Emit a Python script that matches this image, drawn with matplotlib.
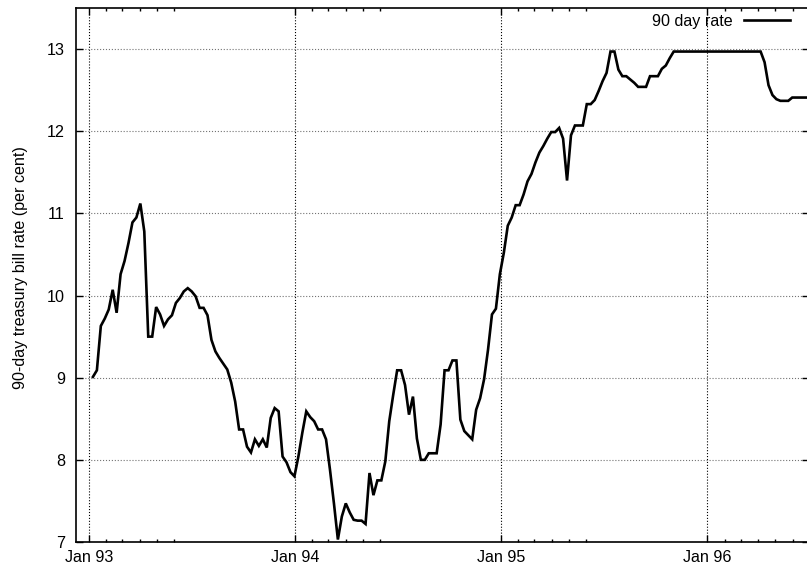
import numpy as np
import pandas as pd
import matplotlib
matplotlib.use("Agg")
import matplotlib.pyplot as plt
import matplotlib.dates as mdates

plt.rcParams['font.family'] = ['Liberation Sans', 'DejaVu Sans']

# weekly 90-day treasury bill rate, first week ending 8 Jan 1993
first_week = "1993-01-08"
rate = [
    9.01, 9.09, 9.63, 9.72, 9.83, 10.07, 9.79, 10.26, 10.42, 10.64,
    10.89, 10.95, 11.12, 10.78, 9.50, 9.50, 9.86, 9.77, 9.63, 9.71,
    9.76, 9.91, 9.97, 10.05, 10.09, 10.05, 9.99, 9.85, 9.85, 9.76,
    9.46, 9.32, 9.24, 9.17, 9.10, 8.94, 8.71, 8.37, 8.37, 8.16,
    8.09, 8.25, 8.17, 8.25, 8.15, 8.51, 8.63, 8.59, 8.04, 7.97,
    7.85, 7.80, 8.04, 8.33, 8.59, 8.52, 8.47, 8.37, 8.37, 8.25,
    7.88, 7.47, 7.03, 7.31, 7.47, 7.36, 7.27, 7.26, 7.26, 7.22,
    7.84, 7.57, 7.75, 7.75, 7.98, 8.47, 8.79, 9.09, 9.09, 8.91,
    8.55, 8.77, 8.26, 8.00, 8.00, 8.08, 8.08, 8.08, 8.43, 9.09,
    9.09, 9.21, 9.21, 8.49, 8.35, 8.30, 8.25, 8.61, 8.75, 8.98,
    9.34, 9.77, 9.84, 10.26, 10.52, 10.85, 10.95, 11.10, 11.10, 11.23,
    11.39, 11.48, 11.62, 11.74, 11.82, 11.91, 11.99, 11.99, 12.04, 11.91,
    11.40, 11.95, 12.07, 12.07, 12.07, 12.33, 12.33, 12.38, 12.49, 12.61,
    12.71, 12.97, 12.97, 12.75, 12.67, 12.67, 12.63, 12.59, 12.54, 12.54,
    12.54, 12.67, 12.67, 12.67, 12.76, 12.80, 12.89, 12.97, 12.97, 12.97,
    12.97, 12.97, 12.97, 12.97, 12.97, 12.97, 12.97, 12.97, 12.97, 12.97,
    12.97, 12.97, 12.97, 12.97, 12.97, 12.97, 12.97, 12.97, 12.97, 12.97,
    12.84, 12.56, 12.44, 12.39, 12.37, 12.37, 12.37, 12.41, 12.41, 12.41,
    12.41, 12.41,
]
weeks = pd.date_range(first_week, periods=len(rate), freq="7D")

y_ticks = [7, 8, 9, 10, 11, 12, 13]
series_label = "90 day rate"
y_title = "90-day treasury bill rate (per cent)"

fs = 11.6

W, H = 807, 572
fig = plt.figure(figsize=(W / 100, H / 100), dpi=100)
ax = fig.add_axes([76 / W, 1 - 542 / H, (808.6 - 76) / W, (542 - 8) / H])

ax.plot(weeks, rate, color='black', lw=1.9, label=series_label, solid_joinstyle='miter')

ax.set_xlim(pd.Timestamp("1992-12-09"), pd.Timestamp("1996-06-29"))
ax.set_ylim(7, 13.5)

ax.xaxis.set_major_locator(mdates.YearLocator())
ax.xaxis.set_major_formatter(mdates.DateFormatter("%b %y"))
ax.xaxis.set_minor_locator(mdates.MonthLocator(bymonth=[2, 3, 4, 5, 6]))
ax.set_yticks(y_ticks)
ax.set_yticklabels([str(t) for t in y_ticks])

ax.tick_params(which='both', direction='in', top=True, right=True, labelsize=fs)
ax.tick_params(which='major', length=5, width=1)
ax.tick_params(which='minor', length=2.5, width=1)
ax.tick_params(axis='x', pad=6)
ax.tick_params(axis='y', pad=8)

ax.grid(True, which='major', axis='x', ls=':', color='black', lw=0.8)
ax.grid(True, which='major', axis='y', ls=':', color='0.45', lw=0.8)

for s in ax.spines.values():
    s.set_linewidth(1.2)

ax.set_ylabel(y_title, fontsize=fs)
ax.yaxis.set_label_coords(-0.065, 0.513)

ax.legend(loc='upper right', bbox_to_anchor=(0.975, 0.989), frameon=False,
          markerfirst=False, handlelength=2.9, handletextpad=0.7,
          borderaxespad=0, borderpad=0, fontsize=fs)

fig.savefig("out.png", dpi=100)
